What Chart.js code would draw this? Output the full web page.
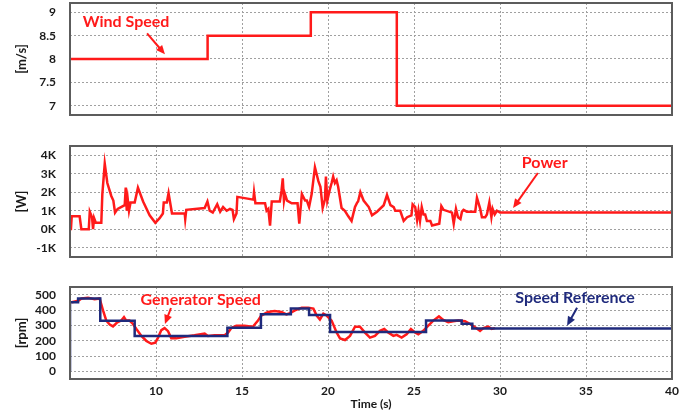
<!DOCTYPE html>
<html>
<head>
<meta charset="utf-8">
<script src="https://cdn.jsdelivr.net/npm/chart.js@4"></script>
<style>
  html, body { margin: 0; padding: 0; background: #fff; }
  #wrap { position: relative; width: 688px; height: 413px; }
  canvas { position: absolute; left: 0; }
</style>
</head>
<body>
<div id="wrap">
  <canvas id="wind" width="688" height="122" style="top:0px"></canvas>
  <canvas id="power" width="688" height="124" style="top:138px"></canvas>
  <canvas id="speed" width="688" height="132" style="top:281px"></canvas>
</div>
<script>
// wind speed steps [m/s]
const windTime = [5, 13, 19, 24, 40];
const windSpeed = [8, 8.5, 9, 7, 7];

// electrical power [W]
const powerTime = [5.0, 5.05, 5.1, 5.56, 5.66, 6.09, 6.15, 6.28, 6.34, 6.4, 6.5, 6.82, 6.88, 7.02, 7.17, 7.4, 7.52, 7.62, 7.77,
  8.18, 8.24, 8.3, 8.36, 8.43, 8.52, 8.76, 8.95, 9.25, 9.63, 9.96, 10.21, 10.4, 10.45, 10.63, 10.73, 10.93, 11.67, 11.7, 11.76,
  12.83, 12.99, 13.12, 13.3, 13.56, 13.73, 13.9, 14.11, 14.3, 14.45, 14.53, 14.68, 14.73, 15.66, 15.7, 15.78, 16.34, 16.43, 16.53,
  16.63, 16.73, 17.2, 17.3, 17.37, 17.44, 17.5, 17.62, 17.89, 18.23, 18.33, 18.48, 18.67, 18.77, 18.9, 19.05, 19.24, 19.44, 19.56,
  19.69, 19.82, 19.88, 19.96, 20.12, 20.21, 20.3, 20.4, 20.5, 20.59, 20.79, 20.98, 21.18, 21.37, 21.57, 21.7, 21.75, 21.88, 22.07,
  22.37, 22.56, 22.85, 23.24, 23.43, 23.63, 23.82, 23.91, 24.2, 24.4, 24.6, 24.85, 24.92, 25.07, 25.18, 25.26, 25.35, 25.45, 25.55,
  25.65, 25.75, 25.95, 26.05, 26.47, 26.59, 26.72, 27.21, 27.31, 27.44, 27.56, 27.7, 27.79, 27.88, 28.07, 28.56, 28.66, 28.85, 28.95,
  29.14, 29.24, 29.38, 29.5, 29.57, 29.69, 29.82, 30.0, 40];
const powerW = [630, -50, 700, 700, 0, 0, 950, 650, 0, 600, 350, 350, 1900, 3550, 2500, 1800, 1550, 900, 1100,
  1300, 2250, 1000, 1600, 1000, 1450, 1450, 2250, 1500, 750, 350, 600, 850, 1450, 1450, 1950, 850, 850, 550, 1050,
  1150, 1500, 1000, 900, 1350, 950, 1200, 1000, 1100, 1050, 550, 850, 1750, 1600, 2000, 1400, 1400, 1000, 1100,
  200, 1500, 1500, 2100, 2750, 1550, 1900, 1550, 1400, 1400, 300, 1900, 1550, 1550, 1200, 1900, 3350, 2600, 2300,
  1150, 1600, 2850, 1550, 2200, 2500, 2850, 2500, 2650, 2300, 1150, 1000, 700, 450, 1200, 1450, 1500, 2000, 1550,
  1200, 750, 950, 1300, 1850, 1300, 1200, 1000, 1000, 450, 650, 750, 1350, 1200, 500, 1000, 450, 1200, 800,
  800, 450, 450, 200, 300, 1250, 1050, 900, 300, 1100, 650, 550, 950, 1050, 950, 950, 1700, 1100, 650,
  650, 800, 1450, 650, 1100, 800, 1000, 900, 900];

// generator speed [rpm]
const genTime = [5.1, 5.48, 5.67, 6.05, 6.43, 6.72, 6.92, 7.11, 7.31, 7.5, 7.75, 7.98, 8.14, 8.27, 8.46, 8.66, 8.86, 9.15, 9.44,
  9.73, 9.96, 10.12, 10.31, 10.5, 10.7, 10.89, 11.18, 11.57, 12.24, 12.83, 13.02, 13.41, 13.99, 14.19, 14.38, 14.67, 15.15, 15.63,
  15.93, 16.12, 16.51, 16.9, 17.29, 17.58, 17.79, 18.08, 18.47, 18.85, 19.15, 19.34, 19.53, 19.73, 19.92, 20.21, 20.5, 20.7, 20.99,
  21.28, 21.57, 21.86, 22.15, 22.44, 22.73, 23.02, 23.27, 23.5, 23.8, 23.99, 24.28, 24.57, 24.82, 25.06, 25.25, 25.54, 25.83, 26.12,
  26.45, 26.7, 26.99, 27.28, 27.58, 27.97, 28.26, 28.55, 28.84, 29.03, 29.32, 29.52, 29.71];
const genRpm = [450, 460, 475, 480, 470, 475, 398, 331, 305, 293, 320, 331, 353, 331, 331, 309, 276, 231, 198,
  180, 187, 220, 269, 282, 262, 215, 215, 224, 235, 247, 231, 235, 235, 253, 282, 298, 298, 291,
  331, 364, 387, 393, 387, 371, 380, 398, 415, 415, 409, 364, 338, 376, 364, 331, 253, 215, 204,
  231, 291, 291, 253, 220, 231, 264, 276, 253, 231, 238, 220, 242, 276, 253, 242, 264, 298, 331,
  358, 335, 320, 327, 331, 327, 309, 287, 264, 282, 291, 276, 282];

// speed reference steps [rpm]
const refTime = [5, 5, 5.47, 6.76, 8.76, 14.15, 16.1, 17.84, 18.9, 20.12, 25.7, 27.77, 28.39, 40];
const refRpm = [0, 450, 475, 330, 230, 285, 372, 410, 367, 257, 332, 310, 280, 280];

// tick values
const timeTicks = [10, 15, 20, 25, 30, 35, 40];
const windTicks = [7, 7.5, 8, 8.5, 9];
const powerTicks = [-1000, 0, 1000, 2000, 3000, 4000];
const rpmTicks = [0, 100, 200, 300, 400, 500];

const RED = '#ff1a1a';
const NAVY = '#1f2a7c';
const FONT = 'Lato, "Open Sans", sans-serif';

const pts = (xs, ys) => xs.map((t, i) => ({ x: t, y: ys[i] }));
const fixTicks = arr => scale => { scale.ticks = arr.map(v => ({ value: v })); };
const noPad = s => { s.paddingTop = 0; s.paddingBottom = 0; s.paddingLeft = 0; s.paddingRight = 0; };

// text labels and arrows, placed in data units
function notes(items) {
  return {
    id: 'notes',
    afterDraw(chart) {
      const { ctx, chartArea: a, scales: { x, y } } = chart;
      ctx.save();
      // frame
      ctx.strokeStyle = '#5c5c5c';
      ctx.lineWidth = 2;
      ctx.strokeRect(a.left, a.top, a.right - a.left, a.bottom - a.top);
      items.forEach(n => {
        ctx.fillStyle = n.color;
        ctx.strokeStyle = n.color;
        ctx.font = 'bold 16px ' + FONT;
        ctx.textAlign = 'center';
        ctx.textBaseline = 'middle';
        ctx.fillText(n.text, x.getPixelForValue(n.at[0]), y.getPixelForValue(n.at[1]));
        const x1 = x.getPixelForValue(n.from[0]), y1 = y.getPixelForValue(n.from[1]);
        const x2 = x.getPixelForValue(n.to[0]), y2 = y.getPixelForValue(n.to[1]);
        const ang = Math.atan2(y2 - y1, x2 - x1);
        ctx.lineWidth = 2;
        ctx.beginPath();
        ctx.moveTo(x1, y1);
        ctx.lineTo(x2 - 6 * Math.cos(ang), y2 - 6 * Math.sin(ang));
        ctx.stroke();
        ctx.beginPath();
        ctx.moveTo(x2, y2);
        ctx.lineTo(x2 - 9 * Math.cos(ang) + 4 * Math.sin(ang), y2 - 9 * Math.sin(ang) - 4 * Math.cos(ang));
        ctx.lineTo(x2 - 9 * Math.cos(ang) - 4 * Math.sin(ang), y2 - 9 * Math.sin(ang) + 4 * Math.cos(ang));
        ctx.closePath();
        ctx.fill();
      });
      ctx.restore();
    }
  };
}

function makeChart(id, datasets, cfg) {
  return new Chart(document.getElementById(id), {
    type: 'line',
    data: { datasets },
    plugins: [notes(cfg.notes)],
    options: {
      responsive: false,
      animation: false,
      devicePixelRatio: 1,
      layout: { padding: { top: cfg.padTop, right: 16, left: 0, bottom: 0 } },
      plugins: { legend: { display: false }, tooltip: { enabled: false } },
      elements: { point: { radius: 0 }, line: { tension: 0, borderWidth: 2.5 } },
      scales: {
        x: {
          type: 'linear',
          min: 5,
          max: 40,
          afterBuildTicks: fixTicks(timeTicks),
          afterFit: s => { s.height = cfg.xHeight; noPad(s); },
          grid: { color: '#a0a0a0', lineWidth: 1, drawTicks: false },
          border: { display: false, dash: [2, 2] },
          ticks: {
            display: cfg.showX,
            autoSkip: false,
            padding: 5,
            maxRotation: 0,
            color: '#1a1a1a',
            font: { family: FONT, size: 12, weight: 'bold' }
          },
          title: {
            display: cfg.showX,
            text: 'Time (s)',
            color: '#1a1a1a',
            padding: { top: 0, bottom: 2 },
            font: { family: FONT, size: 12, weight: 'bold' }
          }
        },
        y: {
          min: cfg.yMin,
          max: cfg.yMax,
          afterBuildTicks: fixTicks(cfg.yTicks),
          afterFit: s => { s.width = 70; noPad(s); },
          grid: { color: '#a0a0a0', lineWidth: 1, drawTicks: false },
          border: { display: false, dash: [2, 2] },
          ticks: {
            autoSkip: false,
            padding: 14,
            color: '#1a1a1a',
            font: { family: FONT, size: 12, weight: 'bold' },
            callback: cfg.fmt
          },
          title: {
            display: true,
            text: cfg.unit,
            color: '#1a1a1a',
            padding: { top: 14, bottom: 0 },
            font: { family: FONT, size: 13, weight: 'bold' }
          }
        }
      }
    }
  });
}

makeChart('wind', [
  { data: pts(windTime, windSpeed), borderColor: RED, stepped: true }
], {
  padTop: 3, xHeight: 7, showX: false,
  yMin: 6.8, yMax: 9.2, yTicks: windTicks, unit: '[m/s]',
  fmt: v => String(v),
  notes: [{ text: 'Wind Speed', color: RED, at: [8.26, 8.79], from: [9.48, 8.55], to: [10.52, 8.1] }]
});

makeChart('power', [
  { data: pts(powerTime, powerW), borderColor: RED }
], {
  padTop: 8, xHeight: 5, showX: false,
  yMin: -1500, yMax: 4500, yTicks: powerTicks, unit: '[W]',
  fmt: v => (v / 1000) + 'K',
  notes: [{ text: 'Power', color: RED, at: [32.6, 3580], from: [32.2, 3040], to: [30.76, 1150] }]
});

makeChart('speed', [
  { data: pts(refTime, refRpm), borderColor: NAVY, stepped: true },
  { data: pts(genTime, genRpm), borderColor: RED }
], {
  padTop: 6, xHeight: 34, showX: true,
  yMin: -50, yMax: 550, yTicks: rpmTicks, unit: '[rpm]',
  fmt: v => String(v),
  notes: [
    { text: 'Generator Speed', color: RED, at: [12.6, 465], from: [10.87, 413], to: [10.52, 309] },
    { text: 'Speed Reference', color: NAVY, at: [34.36, 480], from: [34.48, 415], to: [33.9, 298] }
  ]
});
</script>
</body>
</html>
